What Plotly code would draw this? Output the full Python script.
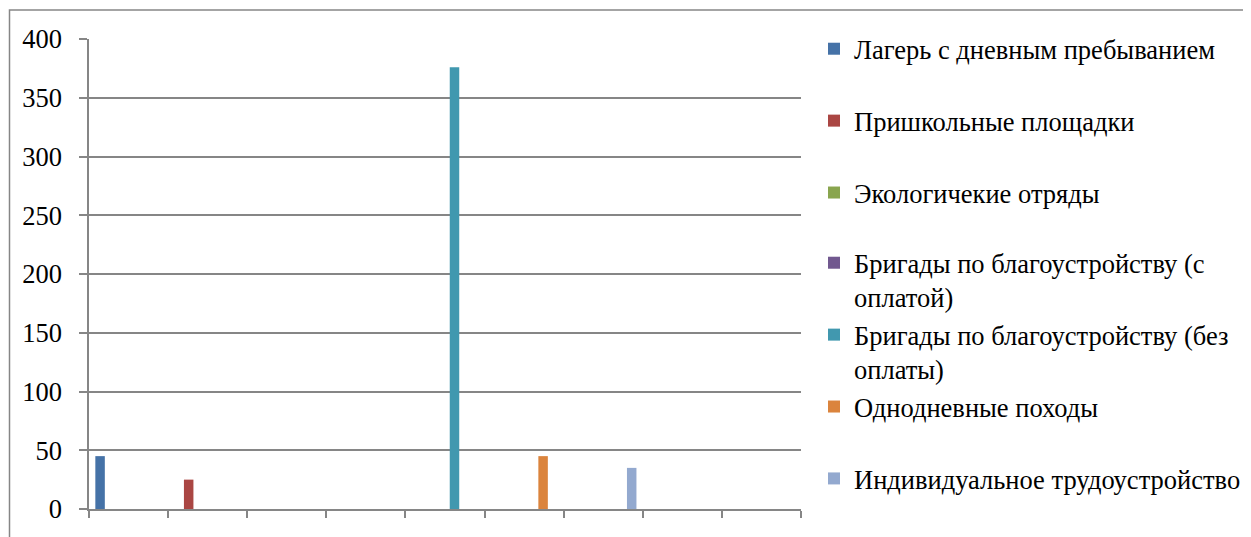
import plotly.graph_objects as go

categories = ["1", "2", "3", "4", "5", "6", "7", "8", "9"]
series_names = [
    "Лагерь с дневным пребыванием",
    "Пришкольные площадки",
    "Экологичекие отряды",
    "Бригады по благоустройству (с<br>оплатой)",
    "Бригады по благоустройству (без<br>оплаты)",
    "Однодневные походы",
    "Индивидуальное трудоустройство",
]
lager = [45, None, None, None, None, None, None, None, None]
prishkol = [None, 25, None, None, None, None, None, None, None]
ekolog = [None, None, 0, None, None, None, None, None, None]
brig_pay = [None, None, None, 0, None, None, None, None, None]
brig_free = [None, None, None, None, 376, None, None, None, None]
pokhody = [None, None, None, None, None, 45, None, None, None]
individ = [None, None, None, None, None, None, 35, None, None]
series_values = [lager, prishkol, ekolog, brig_pay, brig_free, pokhody, individ]
colors = ["#4572A7", "#AA4643", "#89A54E", "#71588F", "#4198AF", "#DB843D", "#93A9CF"]
y_ticks = [0, 50, 100, 150, 200, 250, 300, 350, 400]

fig = go.Figure()
n = len(series_names)
for i, (name, vals) in enumerate(zip(series_names, series_values)):
    last_in_group = i in (2, n - 1)
    label = name if ("<br>" in name or last_in_group) else name + "<br> "
    fig.add_trace(go.Bar(x=categories, y=vals, name=label, marker_color=colors[i],
                         marker_line_width=0,
                         legend="legend" if i < 3 else "legend2"))

OFF = 8  # page body margin
W, H = 1251 - OFF, 537 - OFF
L, R, T, B = 89 - OFF, 801 - OFF, 39 - OFF, 509 - OFF
pw, ph = R - L, B - T

def px_x(x):
    return (x - OFF - L) / pw

def px_y(y):
    return 1 - (y - OFF - T) / ph

SERIF = "Liberation Serif"
legend_font = dict(family=SERIF, size=26.5, color="black")
fig.update_layout(
    width=W, height=H,
    margin=dict(l=L, r=W - R, t=T, b=H - B, pad=0, autoexpand=False),
    paper_bgcolor="white", plot_bgcolor="white",
    barmode="group", bargap=0.16, bargroupgap=0,
    font=dict(family=SERIF, size=26.5, color="black"),
    legend=dict(
        x=px_x(814), y=px_y(25), xanchor="left", yanchor="top",
        font=legend_font, valign="top", traceorder="normal",
        bgcolor="rgba(0,0,0,0)",
    ),
    legend2=dict(
        x=px_x(814), y=px_y(239), xanchor="left", yanchor="top",
        font=legend_font, valign="top", traceorder="normal",
        bgcolor="rgba(0,0,0,0)",
    ),
    xaxis=dict(
        type="category", showticklabels=False, tickson="boundaries",
        ticks="outside", ticklen=7, tickcolor="#868686", tickwidth=1.5,
        showline=True, linecolor="#868686", linewidth=1.5, showgrid=False,
        range=[-0.5, len(categories) - 0.5],
    ),
    yaxis=dict(
        range=[0, 400], tickvals=y_ticks, ticks="outside", ticklen=8,
        tickcolor="#868686", tickwidth=1.5,
        showline=True, linecolor="#868686", linewidth=1.5,
        showgrid=True, gridcolor="#868686", gridwidth=1.5,
        zeroline=False, ticklabelstandoff=12,
        tickfont=dict(family=SERIF, size=26.5, color="black"),
    ),
    shapes=[dict(
        type="rect", xref="paper", yref="paper",
        x0=px_x(9.5), x1=px_x(1270),
        y0=px_y(560), y1=px_y(10),
        line=dict(color="#868686", width=1.5), fillcolor="rgba(0,0,0,0)", layer="below",
    )],
)

fig.write_html("out.html")
